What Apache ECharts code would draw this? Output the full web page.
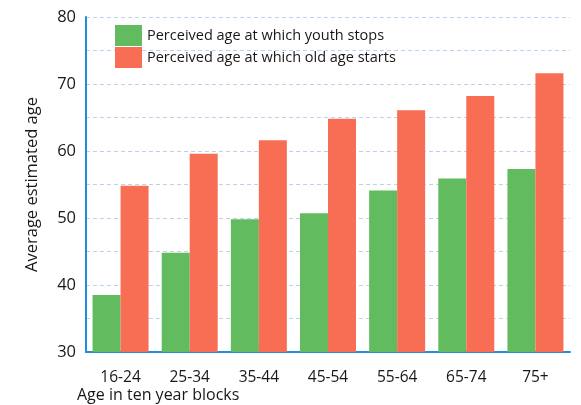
<!DOCTYPE html>
<html>
<head>
<meta charset="utf-8">
<style>
  html, body { margin: 0; padding: 0; background: #ffffff; }
  #chart { width: 581px; height: 405px; }
</style>
<script src="https://cdn.jsdelivr.net/npm/echarts@6/dist/echarts.min.js"></script>
</head>
<body>
<div id="chart"></div>
<script>
// Age bands of the respondents
const ageBlocks = ['16-24', '25-34', '35-44', '45-54', '55-64', '65-74', '75+'];
// Average age at which people think youth stops
const youthStops = [38.5, 44.8, 49.8, 50.7, 54.1, 55.9, 57.3];
// Average age at which people think old age starts
const oldAgeStarts = [54.8, 59.6, 61.6, 64.8, 66.1, 68.2, 71.6];

const seriesNames = ['Perceived age at which youth stops', 'Perceived age at which old age starts'];
const FONT = '"Open Sans", "Noto Sans", sans-serif';
const INK = '#1a1718';
const AXIS_BLUE = '#1f8fdc';

const chart = echarts.init(document.getElementById('chart'));
chart.setOption({
  backgroundColor: '#ffffff',
  animation: false,
  textStyle: { fontFamily: FONT, color: INK },
  title: {
    text: 'Age in ten year blocks',
    left: 77,
    top: 387,
    padding: 0,
    textStyle: { fontFamily: FONT, fontSize: 16, fontWeight: 'normal', color: INK }
  },
  legend: {
    orient: 'vertical',
    left: 115,
    top: 25,
    padding: 0,
    itemWidth: 27,
    itemHeight: 21,
    itemGap: 1,
    icon: 'rect',
    selectedMode: false,
    itemStyle: { borderWidth: 0 },
    textStyle: { fontFamily: FONT, fontSize: 14.5, color: INK, padding: [2, 0, 0, 0] },
    data: seriesNames
  },
  grid: { left: 86, right: 11, top: 17, bottom: 53, containLabel: false },
  xAxis: {
    type: 'category',
    data: ageBlocks,
    axisLine: { show: true, lineStyle: { color: AXIS_BLUE, width: 2 } },
    axisTick: { show: false },
    axisLabel: { fontFamily: FONT, fontSize: 15.5, color: INK, margin: 18 }
  },
  yAxis: {
    type: 'value',
    min: 30,
    max: 80,
    interval: 5,
    name: 'Average estimated age',
    nameLocation: 'middle',
    nameGap: 45,
    nameTextStyle: { fontFamily: FONT, fontSize: 16.5, color: INK },
    axisLine: { show: true, lineStyle: { color: AXIS_BLUE, width: 2 } },
    axisTick: { show: false },
    axisLabel: {
      fontFamily: FONT, fontSize: 16.5, color: INK, margin: 10,
      formatter: v => (v % 10 === 0 ? String(v) : '')
    },
    splitLine: { show: true, lineStyle: { color: '#b9d3ee', width: 1, type: [4, 3] } }
  },
  series: [
    {
      name: seriesNames[0],
      type: 'bar',
      data: youthStops,
      barWidth: 28,
      barGap: '0%',
      itemStyle: { color: '#62bb5e' }
    },
    {
      name: seriesNames[1],
      type: 'bar',
      data: oldAgeStarts,
      barWidth: 28,
      itemStyle: { color: '#f86e55' }
    }
  ]
});
</script>
</body>
</html>
